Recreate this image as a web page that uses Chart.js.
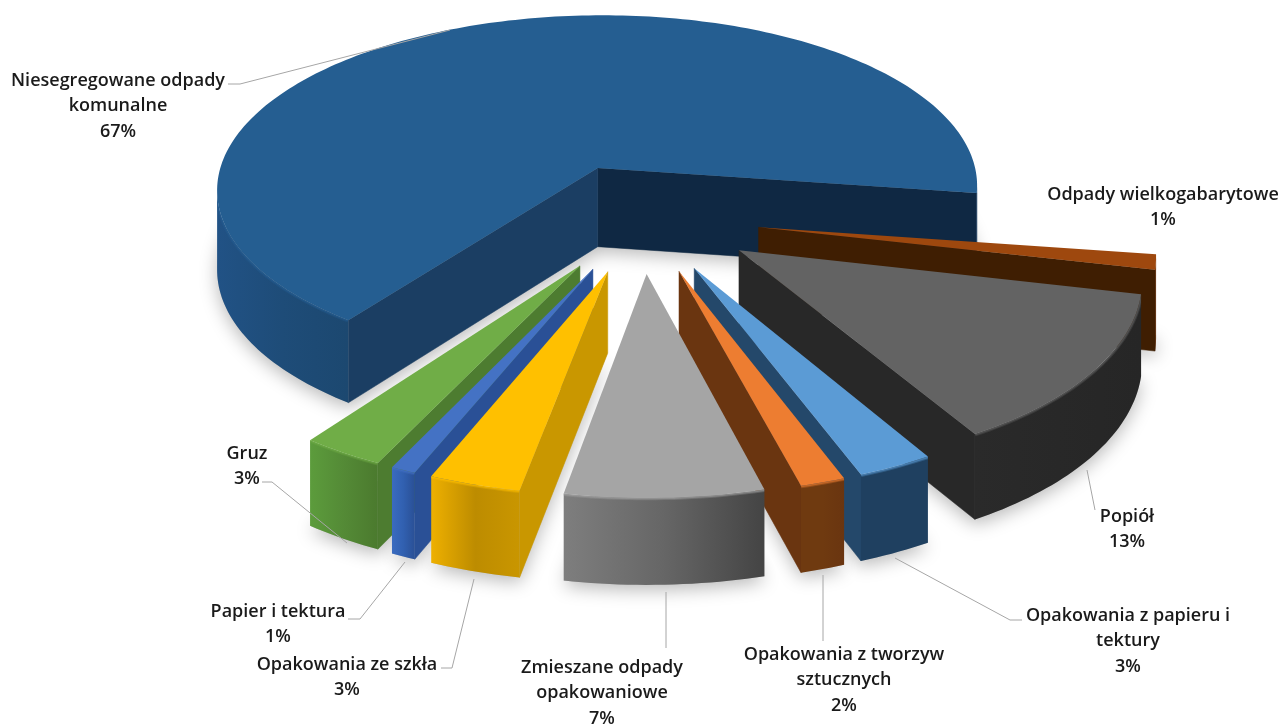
<!DOCTYPE html>
<html><head><meta charset="utf-8">
<style>html,body{margin:0;padding:0;background:#fff;overflow:hidden}canvas{display:block;filter:blur(0.45px)}</style>
<script src="https://cdn.jsdelivr.net/npm/chart.js@4/dist/chart.umd.js"></script>
</head><body><canvas id="c" width="1284" height="724"></canvas>
<script>
// DATA
const categories = ["Niesegregowane odpady komunalne","Odpady wielkogabarytowe","Popiół","Opakowania z papieru i tektury","Opakowania z tworzyw sztucznych","Zmieszane odpady opakowaniowe","Opakowania ze szkła","Papier i tektura","Gruz"];
const values = [67.3,1.3,13.0,2.7,1.6,7.0,3.25,0.9,2.95];
const labelLines = [["Niesegregowane odpady","komunalne"],["Odpady wielkogabarytowe"],["Popiół"],["Opakowania z papieru i","tektury"],["Opakowania z tworzyw","sztucznych"],["Zmieszane odpady","opakowaniowe"],["Opakowania ze szkła"],["Papier i tektura"],["Gruz"]];
// STYLE
const topColors  = ["#255E91","#9E480E","#636363","#5B9BD5","#ED7D31","#A5A5A5","#FFC000","#4472C4","#70AD47"];
const startFaces = ["#1B3E63","#3F1E02","#282828","#24486A","#6A3510","#555555","#C99700","#2A5096","#4D7C30"];
const endFaces   = ["#0F2843","#3F1E02","#282828","#24486A","#6A3510","#555555","#C99700","#2A5096","#4D7C30"];
const rimStops   = [["#215285","#1E4C78","#1C4870"],["#5A2A08","#5A2A08","#5A2A08"],["#2A2A2A","#282828","#262626"],["#1F4060","#1F4060","#1F4060"],["#6F3A10","#6F3A10","#6A3510"],["#7E7E7E","#666666","#444444"],["#EEB000","#BD8C00","#C99600"],["#3A6BC0","#3160B0","#2A5096"],["#5C9C3C","#548A36","#4B7A2E"]];
const paintOrder = [0,1,2,3,4,8,7,6,5];
const labelX = [118,1163,1127,1128,844,602,347,278,247];
const labelY = [81,195,517,616,655,668,665,612,454];
const leaders = [[[228,84],[240,84],[450,30]],[],[[1095,510],[1087,470]],[[1022,620],[1010,620],[895,558]],[[823,641],[823,575]],[[666,648],[666,592]],[[441,668],[452,668],[474,579]],[[348,619],[360,619],[405,562]],[[262,482],[272,482],[347,543]]];
const LINE_H = 25.3;
// View projection of the pie plane
const VIEW = {x0:642,y0:217,a:390,b:182,k:0.12,h:80};
function project(u,v){const w=1-VIEW.k*v;return {x:VIEW.x0+VIEW.a*u/w,y:VIEW.y0+VIEW.b*v/w,h:VIEW.h/Math.sqrt(w)};}
function outline(el){
  const {startAngle:s,endAngle:e,outerRadius:R}=el.getProps(['startAngle','endAngle','outerRadius']);
  const off=(el.options.offset||0)/R, mid=(s+e)/2, ou=off*Math.cos(mid), ov=off*Math.sin(mid);
  const n=Math.max(4,Math.ceil((e-s)/0.02)), rim=[];
  for(let i=0;i<=n;i++){const t=s+(e-s)*i/n;rim.push(project(ou+Math.cos(t),ov+Math.sin(t)));}
  return {apex:project(ou,ov),rim};
}
function trace(ctx,pts){pts.forEach((p,i)=>{i?ctx.lineTo(p.x,p.y):ctx.moveTo(p.x,p.y);});}
function quad(ctx,a,b,c){ctx.beginPath();ctx.moveTo(a.x,a.y);ctx.lineTo(b.x,b.y);ctx.lineTo(b.x,b.y+b.h);ctx.lineTo(a.x,a.y+a.h);ctx.closePath();ctx.fillStyle=c;ctx.strokeStyle=c;ctx.lineWidth=.5;ctx.fill();ctx.stroke();}
function paintSlice(ctx,el,i){
  const {apex,rim}=outline(el),first=rim[0],last=rim[rim.length-1];
  ctx.save();ctx.lineJoin='round';
  if(last.x>apex.x)quad(ctx,last,apex,endFaces[i]);
  if(first.x<apex.x)quad(ctx,apex,first,startFaces[i]);
  let run=[];const flush=()=>{ if(run.length>1){
      const xs=run.map(p=>p.x),min=Math.min(...xs),max=Math.max(...xs),g=ctx.createLinearGradient(min,0,max,0);
      rimStops[i].forEach((c,j)=>g.addColorStop(j/2,c));
      ctx.save();
      ctx.beginPath();trace(ctx,run);[...run].reverse().forEach(p=>ctx.lineTo(p.x,p.y+p.h));ctx.closePath();
      ctx.fillStyle=g;ctx.fill();ctx.clip();
      // soft bevel between the outer wall and the top face, kept inside the wall
      [[5,.3],[3,.5]].forEach(([lw,al])=>{ctx.globalAlpha=al;ctx.strokeStyle=topColors[i];ctx.lineWidth=lw;ctx.beginPath();trace(ctx,run);ctx.stroke();});
      ctx.restore();
    } run=[]; };
  for(let j=0;j<rim.length-1;j++){ if(rim[j+1].x<rim[j].x){ if(!run.length)run.push(rim[j]); run.push(rim[j+1]); } else flush(); }
  flush();
  ctx.beginPath();ctx.moveTo(apex.x,apex.y);rim.forEach(p=>ctx.lineTo(p.x,p.y));ctx.closePath();
  ctx.fillStyle=topColors[i];ctx.fill();
  ctx.restore();
}
// The library's own ArcElement draw call paints the slices, back to front, once all have been reached.
Chart.ArcElement.prototype.draw=function(ctx){
  const meta=this.$context.chart.getDatasetMeta(0);
  if(this.$context.dataIndex===meta.data.length-1) paintOrder.forEach(i=>paintSlice(ctx,meta.data[i],i));
};
const shadowPlugin={id:'floorShadow',beforeDatasetsDraw(chart){
  const ctx=chart.ctx;
  chart.getDatasetMeta(0).data.forEach(el=>{const {apex,rim}=outline(el);ctx.save();
    ctx.shadowColor='rgba(0,0,0,0.28)';ctx.shadowBlur=18;ctx.shadowOffsetY=5;ctx.fillStyle='#bbb';
    ctx.beginPath();ctx.moveTo(apex.x,apex.y+apex.h);rim.forEach(p=>ctx.lineTo(p.x,p.y+p.h));ctx.closePath();ctx.fill();ctx.restore();});
}};
const labelPlugin={id:'calloutLabels',afterDatasetsDraw(chart){
  const ctx=chart.ctx;ctx.save();
  ctx.strokeStyle='#A6A6A6';ctx.lineWidth=1;
  leaders.forEach(l=>{if(!l.length)return;ctx.beginPath();l.forEach((p,i)=>i?ctx.lineTo(p[0],p[1]):ctx.moveTo(p[0],p[1]));ctx.stroke();});
  ctx.fillStyle='#1a1a1a';ctx.textAlign='center';ctx.textBaseline='middle';ctx.font='600 18px "Open Sans"';
  categories.forEach((c,i)=>{const lines=[...labelLines[i],Math.round(values[i])+'%'];lines.forEach((t,j)=>ctx.fillText(t,labelX[i],labelY[i]+j*LINE_H));});
  ctx.restore();
}};
new Chart(document.getElementById('c'),{type:'pie',
  data:{labels:categories,datasets:[{data:values,backgroundColor:topColors,borderWidth:0,offset:95,hoverOffset:95}]},
  options:{responsive:false,animation:false,rotation:216,events:[],layout:{padding:0},plugins:{legend:{display:false},tooltip:{enabled:false}}},
  plugins:[shadowPlugin,labelPlugin]});
</script></body></html>
